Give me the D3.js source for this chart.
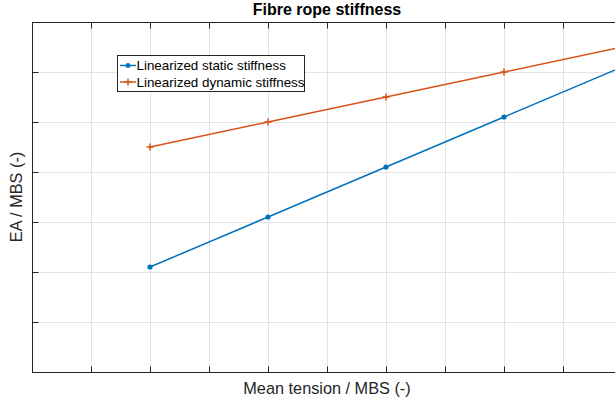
<!DOCTYPE html>
<meta charset="utf-8">
<title>Fibre rope stiffness</title>
<head>
    <script src="https://d3js.org/d3.v7.min.js"></script>
</head>
<body style="margin: 0px; background: #fff">
<script>

    // values (no tick labels shown in the original)
    var tension = [2, 4, 6, 8, 10]
    var staticStiffness = [2.1, 3.1, 4.1, 5.1, 6.1]
    var dynamicStiffness = [4.5, 5.0, 5.5, 6.0, 6.5]
    var xTicks = d3.range(0, 11, 1)
    var yTicks = d3.range(0, 8, 1)
    var seriesNames = ["Linearized static stiffness", "Linearized dynamic stiffness"]
    var seriesColors = ["#0072BD", "#D95319"]

    var width = 615,
            height = 404,
            axLeft = 32, axRight = 622, axTop = 22, axBottom = 372;

    var font = "'Liberation Sans', Arial, Helvetica, sans-serif";

    var svg = d3.select("body").append("svg")
            .attr("width", width)
            .attr("height", height)
            .style("display", "block")
            .style("font-family", font)

    var x = d3.scaleLinear().domain([0, 10]).range([axLeft, axRight])
    var y = d3.scaleLinear().domain([0, 7]).range([axBottom, axTop])

    // grid
    svg.append("g").selectAll("line").data(xTicks).enter().append("line")
            .attr("x1", d => Math.round(x(d)) + 0.5).attr("x2", d => Math.round(x(d)) + 0.5)
            .attr("y1", axTop).attr("y2", axBottom)
            .attr("stroke", "#e3e3e3").attr("stroke-width", 1)
    svg.append("g").selectAll("line").data(yTicks).enter().append("line")
            .attr("y1", d => Math.round(y(d)) + 0.5).attr("y2", d => Math.round(y(d)) + 0.5)
            .attr("x1", axLeft).attr("x2", axRight)
            .attr("stroke", "#e3e3e3").attr("stroke-width", 1)

    // axes (ticks inside, no labels)
    var axColor = "#262626";
    var xb = svg.append("g").attr("transform", "translate(0," + (axBottom + 0.5) + ")")
            .call(d3.axisBottom(x).tickValues(xTicks).tickSize(-6).tickFormat(""))
    var xt = svg.append("g").attr("transform", "translate(0," + (axTop + 0.5) + ")")
            .call(d3.axisTop(x).tickValues(xTicks).tickSize(-6).tickFormat(""))
    var yl = svg.append("g").attr("transform", "translate(" + (axLeft + 0.5) + ",0)")
            .call(d3.axisLeft(y).tickValues(yTicks).tickSize(-6).tickFormat(""))
    var yr = svg.append("g").attr("transform", "translate(" + (axRight + 0.5) + ",0)")
            .call(d3.axisRight(y).tickValues(yTicks).tickSize(-6).tickFormat(""))
    ;[xb, xt, yl, yr].forEach(function (g) {
        g.selectAll("line").attr("stroke", axColor).attr("stroke-width", 1)
        g.select(".domain").remove()
    })
    svg.append("rect")
            .attr("x", axLeft + 0.5).attr("y", axTop + 0.5)
            .attr("width", axRight - axLeft).attr("height", axBottom - axTop)
            .attr("fill", "none").attr("stroke", axColor).attr("stroke-width", 1)

    // lines
    var series = [staticStiffness, dynamicStiffness];
    var line = d3.line().x((d, i) => x(tension[i])).y(d => y(d))
    series.forEach(function (s, k) {
        svg.append("path").datum(s)
                .attr("d", line)
                .attr("fill", "none")
                .attr("stroke", seriesColors[k])
                .attr("stroke-width", 1.5)
    })
    // markers
    svg.append("g").selectAll("circle").data(staticStiffness).enter().append("circle")
            .attr("cx", (d, i) => x(tension[i])).attr("cy", d => y(d))
            .attr("r", 2.6).attr("fill", seriesColors[0])
    svg.append("g").selectAll("path").data(dynamicStiffness).enter().append("path")
            .attr("d", function (d, i) {
                var cx = x(tension[i]), cy = y(d), s = 3.5;
                return "M" + (cx - s) + "," + cy + "H" + (cx + s) + "M" + cx + "," + (cy - s) + "V" + (cy + s)
            })
            .attr("stroke", seriesColors[1]).attr("stroke-width", 1.5)

    // title and labels
    svg.append("text").attr("x", (axLeft + axRight) / 2).attr("y", 15)
            .attr("text-anchor", "middle").attr("font-weight", "bold")
            .attr("font-size", 16).attr("fill", "#000")
            .text("Fibre rope stiffness")
    svg.append("text").attr("x", (axLeft + axRight) / 2).attr("y", 394)
            .attr("text-anchor", "middle").attr("font-size", 16.3).attr("fill", "#262626")
            .text("Mean tension / MBS (-)")
    svg.append("text")
            .attr("transform", "translate(22," + ((axTop + axBottom) / 2) + ") rotate(-90)")
            .attr("text-anchor", "middle").attr("font-size", 16.3).attr("fill", "#262626")
            .text("EA / MBS (-)")

    // legend
    var lg = svg.append("g").attr("transform", "translate(117,55)")
    lg.append("rect").attr("x", 0.5).attr("y", 0.5).attr("width", 187).attr("height", 36)
            .attr("fill", "#fff").attr("stroke", axColor).attr("stroke-width", 1)
    seriesNames.forEach(function (name, k) {
        var cy = 10.5 + k * 16.5;
        lg.append("line").attr("x1", 3).attr("x2", 19).attr("y1", cy).attr("y2", cy)
                .attr("stroke", seriesColors[k]).attr("stroke-width", 1.5)
        if (k === 0) {
            lg.append("circle").attr("cx", 11).attr("cy", cy).attr("r", 2.4).attr("fill", seriesColors[k])
        } else {
            lg.append("path").attr("d", "M7.5," + cy + "H14.5M11," + (cy - 3.5) + "V" + (cy + 3.5))
                    .attr("stroke", seriesColors[k]).attr("stroke-width", 1.5)
        }
        lg.append("text").attr("x", 19.5).attr("y", cy + 4.7)
                .attr("font-size", 13.4).attr("fill", "#000")
                .text(name)
    })

</script>
</body>
